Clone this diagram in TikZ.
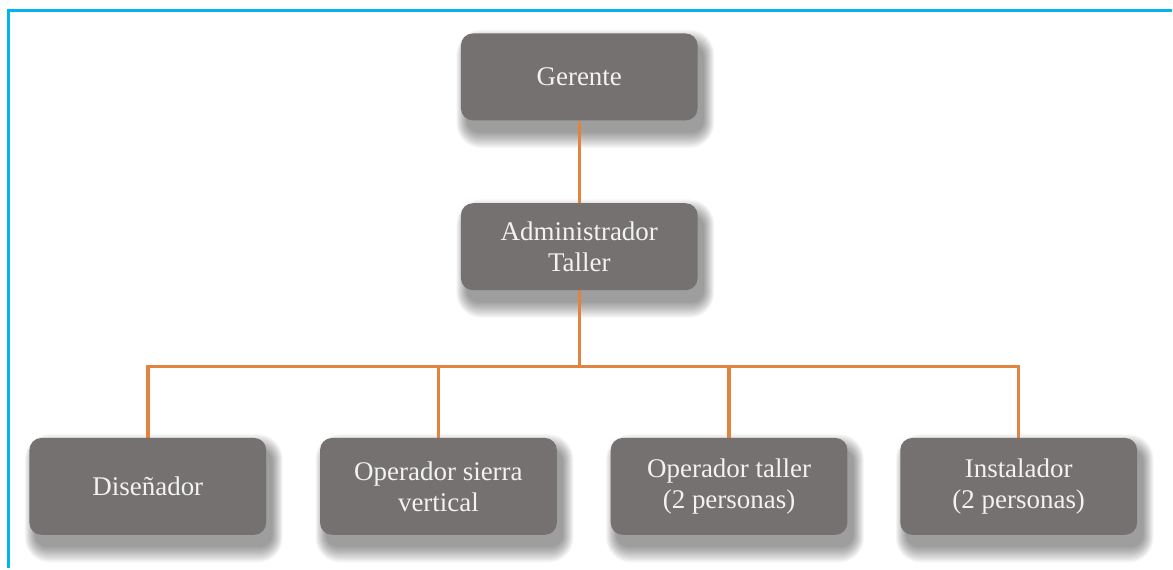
\documentclass[tikz,border=0pt]{standalone}
\usepackage{fontspec}
\setmainfont{Liberation Serif}
\usetikzlibrary{backgrounds}
\definecolor{boxgray}{HTML}{767171}
\definecolor{lineorange}{HTML}{E0843F}
\definecolor{framecyan}{HTML}{00B4F0}
\tikzset{
  orgbox/.style={draw=none, fill=boxgray, rounded corners=12pt, minimum width=237pt,
    inner sep=0pt, align=center, text=white!95!black,
    font=\fontsize{27}{31}\selectfont},
  topbox/.style={orgbox, minimum height=87pt},
  lowbox/.style={orgbox, minimum height=97pt},
  link/.style={draw=lineorange, line width=3.4pt},
}
\newcommand{\softshadow}[1]{%
  \foreach \k in {0,...,13}{%
    \fill[black, opacity=0.032, rounded corners={12pt+1pt*\k}]
      ([xshift=6pt-\k*0.8pt, yshift=-12pt+\k*1.2pt]#1.north west) rectangle
      ([xshift=6pt+\k*0.8pt, yshift=-12pt-\k*1.2pt]#1.south east);
  }%
}
\begin{document}
\begin{tikzpicture}[x=1pt,y=-1pt]
\node[topbox] (ger) at (580,77) {Gerente};
\node[topbox] (adm) at (580,247) {Administrador\\Taller};
\node[lowbox] (dis) at (148,487) {Diseñador};
\node[lowbox] (sie) at (439,487) {Operador sierra\\vertical};
\node[lowbox] (tal) at (730,487) {Operador taller\\(2 personas)};
\node[lowbox] (ins) at (1020,487) {Instalador\\(2 personas)};
\coordinate (bus) at (580,367);
\begin{scope}[on background layer]
\fill[white] (0,0) rectangle (1173,569);
\draw[framecyan, line width=3pt] (9,569) -- (9,11) -- (1173,11);
\softshadow{ger}\softshadow{adm}\softshadow{dis}\softshadow{sie}\softshadow{tal}\softshadow{ins}
\draw[link] (ger.south) -- (adm.north);
\draw[link] (adm.south) -- (bus);
\draw[link] (dis.north) -- (dis.north |- bus) -- (ins.north |- bus) -- (ins.north);
\draw[link] (sie.north) -- (sie.north |- bus);
\draw[link] (tal.north) -- (tal.north |- bus);
\end{scope}
\useasboundingbox (0,0) rectangle (1173,569);
\end{tikzpicture}
\end{document}
